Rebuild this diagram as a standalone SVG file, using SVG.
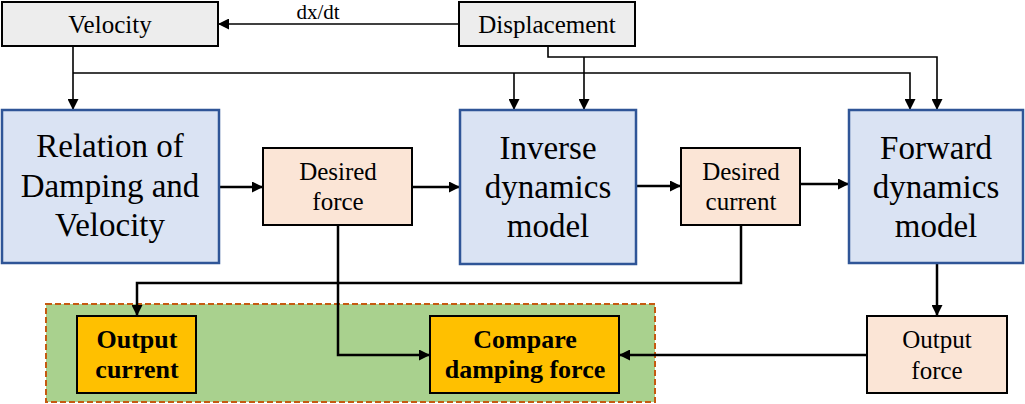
<svg xmlns="http://www.w3.org/2000/svg" width="1025" height="404" viewBox="0 0 1025 404">
<style>
text{font-family:"Liberation Serif","Times New Roman",serif;fill:#000;text-anchor:middle}
.big{font-size:33px}
.sm{font-size:25px}
.bd{font-size:26px;font-weight:bold}
.gray{fill:#ededed;stroke:#000;stroke-width:2}
.blue{fill:#dae3f3;stroke:#2f5597;stroke-width:2.5}
.peach{fill:#fbe5d6;stroke:#000;stroke-width:2}
.gold{fill:#ffc000;stroke:#000;stroke-width:2}
.c{fill:none;stroke:#000;stroke-width:2.5}
.t{fill:none;stroke:#000;stroke-width:1.6}
</style>
<defs>
<marker id="ah" viewBox="0 0 10 10" refX="10" refY="5" markerWidth="11" markerHeight="11" markerUnits="userSpaceOnUse" orient="auto">
<path d="M0,0 L10,5 L0,10 z" fill="#000"/>
</marker>
</defs>
<g id="group-box">
<rect x="46" y="304" width="609" height="98" fill="#a9d18e" stroke="#c55a11" stroke-width="2" stroke-dasharray="6 3"/>
</g>
<g id="connectors">
<path class="t" d="M459,24 H218" marker-end="url(#ah)"/>
<text x="318" y="19" style="font-size:21px">dx/dt</text>
<path class="t" d="M73,46 V110" marker-end="url(#ah)"/>
<path class="t" d="M73,73 H910 V110" marker-end="url(#ah)"/>
<path class="t" d="M514,73 V110" marker-end="url(#ah)"/>
<path class="t" d="M548,46 V57 H937 V110" marker-end="url(#ah)"/>
<path class="t" d="M584,57 V110" marker-end="url(#ah)"/>
<path class="c" d="M219,187 H263" marker-end="url(#ah)"/>
<path class="c" d="M412,187 H460" marker-end="url(#ah)"/>
<path class="c" d="M636,186 H681" marker-end="url(#ah)"/>
<path class="c" d="M800,184 H849" marker-end="url(#ah)"/>
<path class="c" d="M741,225 V283 H137 V316" marker-end="url(#ah)"/>
<path class="c" d="M338,225 V355 H430" marker-end="url(#ah)"/>
<path class="c" d="M937,264 V316" marker-end="url(#ah)"/>
<path class="c" d="M867,355 H619" marker-end="url(#ah)"/>
</g>
<g id="velocity">
<rect class="gray" x="2" y="2" width="216" height="44"/>
<text class="sm" x="110" y="33">Velocity</text>
</g>
<g id="displacement">
<rect class="gray" x="459" y="2" width="176" height="44"/>
<text class="sm" x="547" y="33">Displacement</text>
</g>
<g id="relation">
<rect class="blue" x="2" y="110" width="217" height="153"/>
<text class="big" x="110" y="157">Relation of</text>
<text class="big" x="110" y="197">Damping and</text>
<text class="big" x="110" y="236">Velocity</text>
</g>
<g id="desired-force">
<rect class="peach" x="263" y="148" width="149" height="77"/>
<text class="sm" x="338" y="180">Desired</text>
<text class="sm" x="338" y="210">force</text>
</g>
<g id="inverse">
<rect class="blue" x="460" y="110" width="176" height="154"/>
<text class="big" x="548" y="159">Inverse</text>
<text class="big" x="548" y="198">dynamics</text>
<text class="big" x="548" y="237">model</text>
</g>
<g id="desired-current">
<rect class="peach" x="681" y="148" width="119" height="77"/>
<text class="sm" x="741" y="180">Desired</text>
<text class="sm" x="741" y="210">current</text>
</g>
<g id="forward">
<rect class="blue" x="849" y="110" width="174" height="153"/>
<text class="big" x="936" y="159">Forward</text>
<text class="big" x="936" y="198">dynamics</text>
<text class="big" x="936" y="237">model</text>
</g>
<g id="output-current">
<rect class="gold" x="77" y="316" width="119" height="77"/>
<text class="bd" x="137" y="348">Output</text>
<text class="bd" x="137" y="378">current</text>
</g>
<g id="compare">
<rect class="gold" x="430" y="316" width="189" height="77"/>
<text class="bd" x="525" y="348">Compare</text>
<text class="bd" x="525" y="378">damping force</text>
</g>
<g id="output-force">
<rect class="peach" x="867" y="316" width="140" height="77"/>
<text class="sm" x="937" y="348">Output</text>
<text class="sm" x="937" y="379">force</text>
</g>
</svg>
